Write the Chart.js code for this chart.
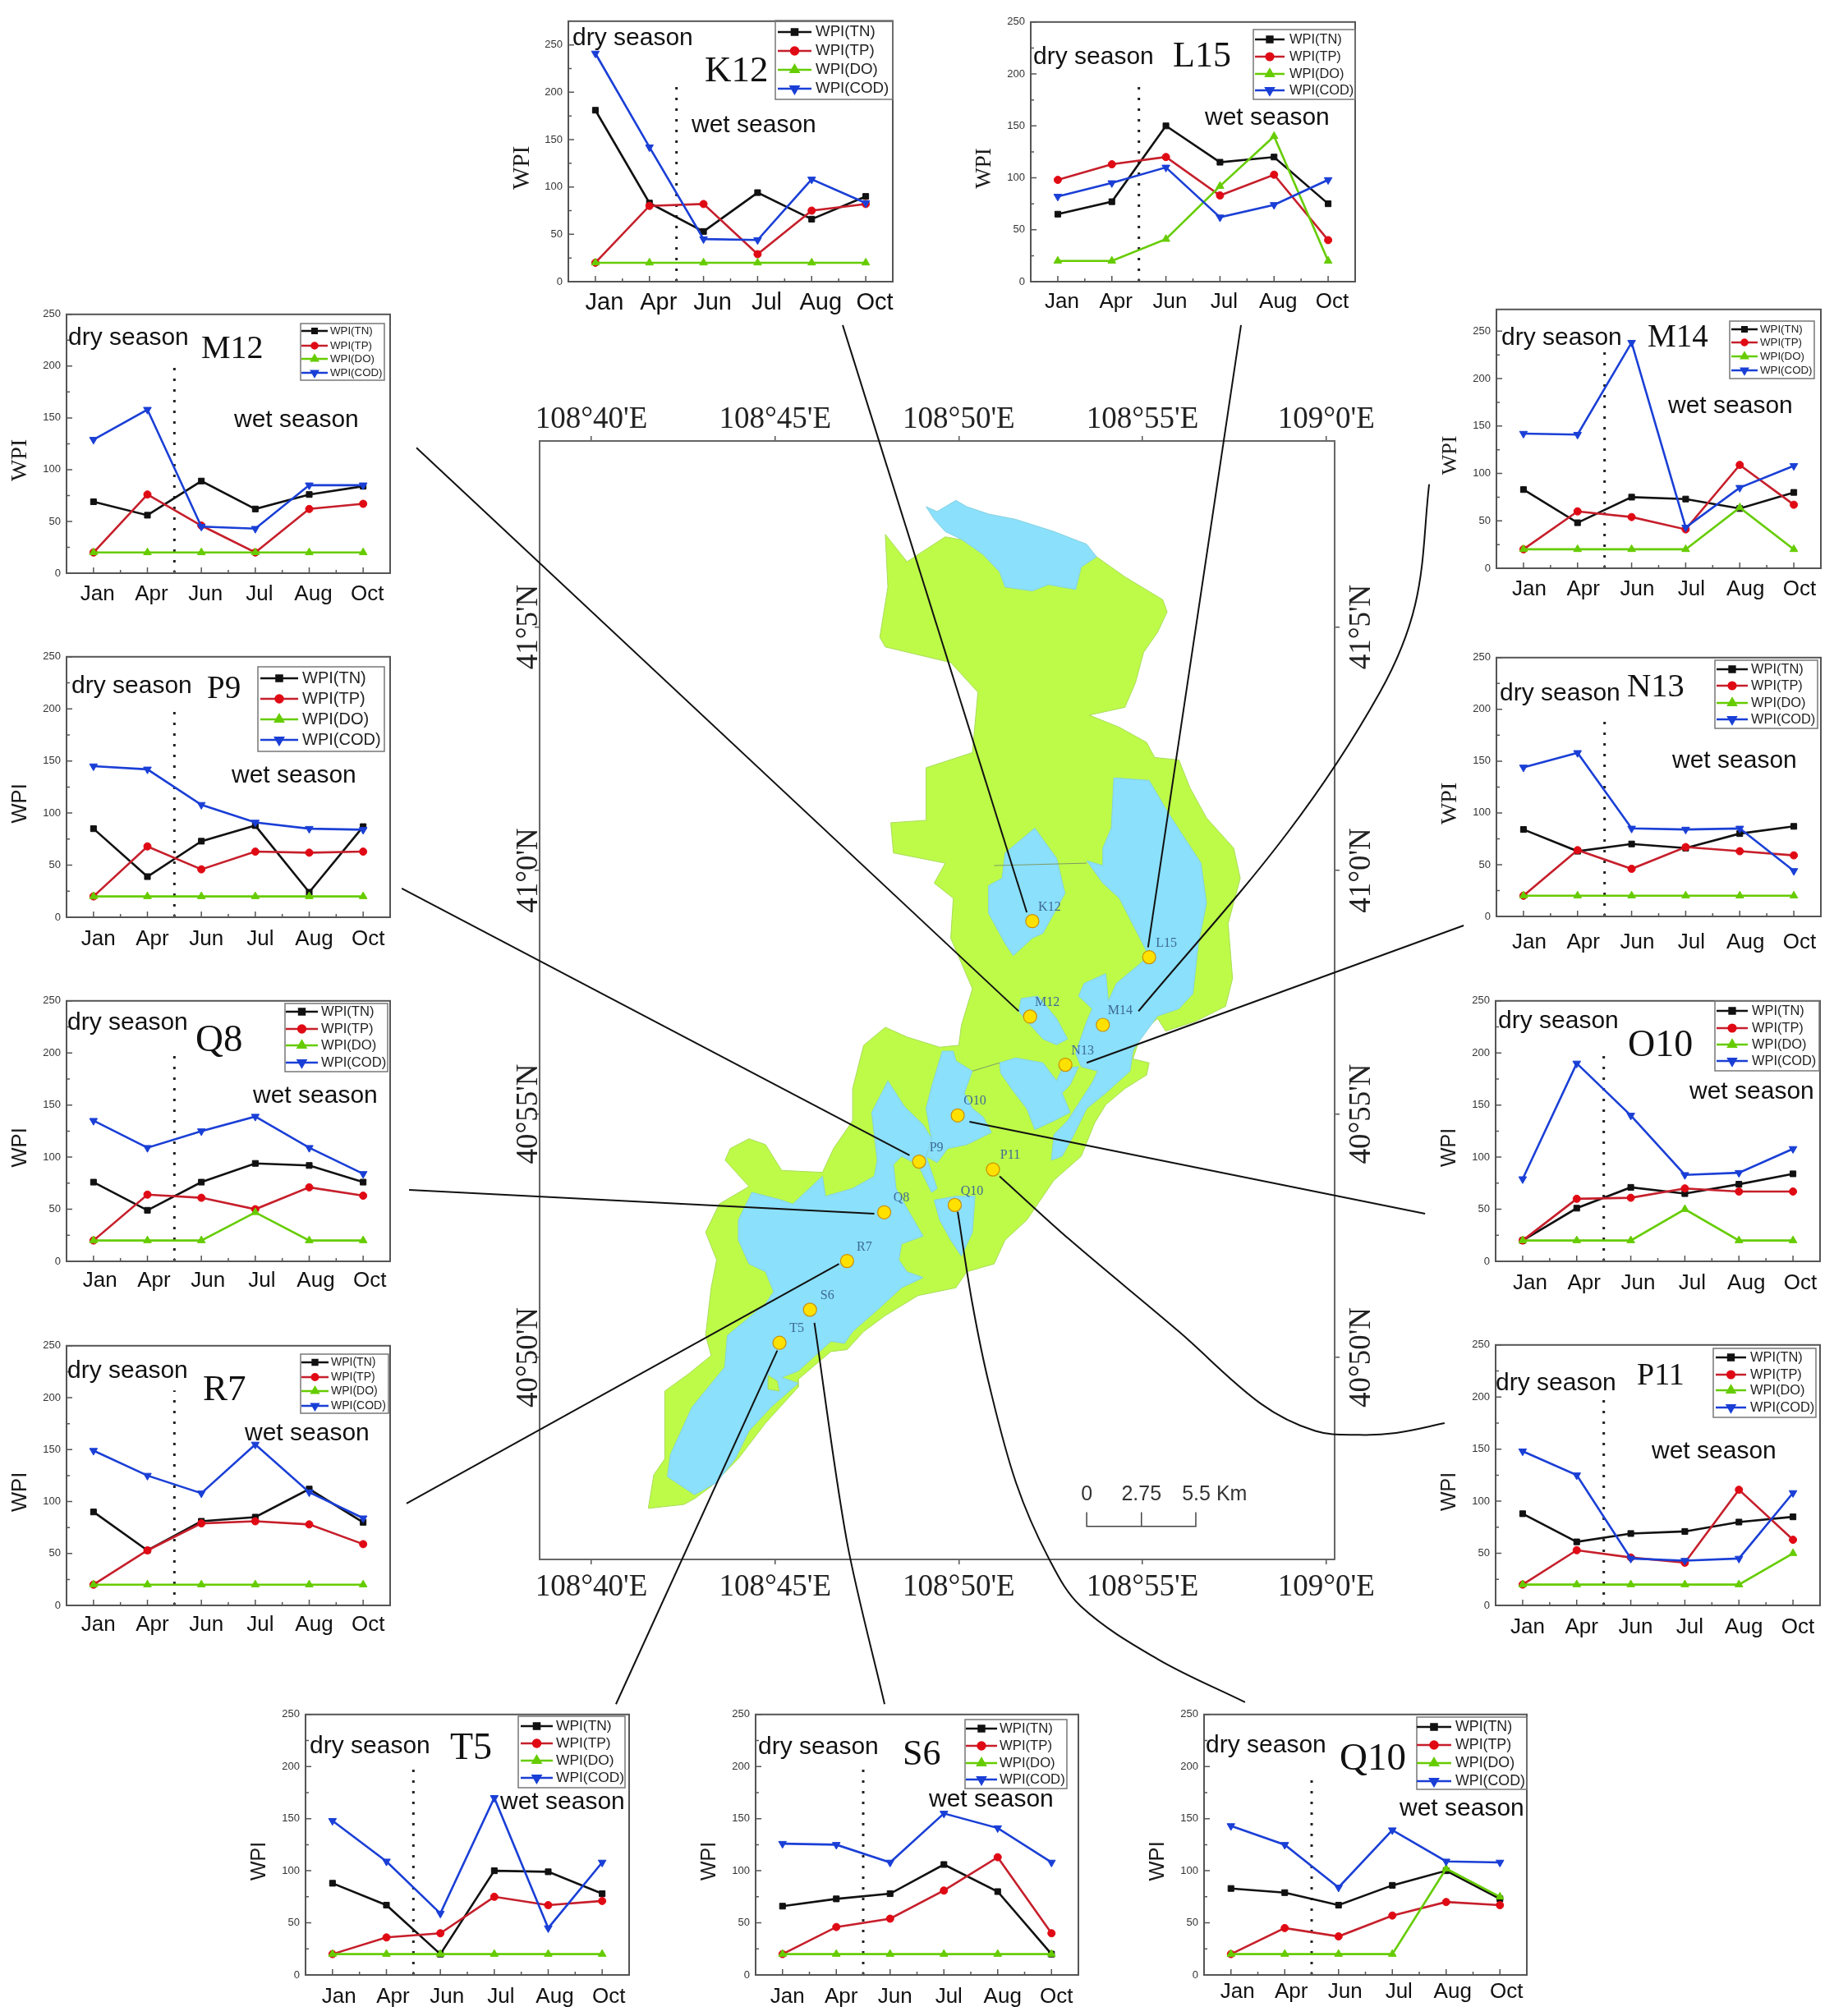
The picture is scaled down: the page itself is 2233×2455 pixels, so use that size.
<!DOCTYPE html>
<html><head><meta charset="utf-8">
<style>html,body{margin:0;padding:0;background:#fff}#page{position:relative;width:2233px;height:2455px;overflow:hidden;background:#fff}canvas{position:absolute;display:block}</style>
<script src="https://cdn.jsdelivr.net/npm/chart.js@4"></script>
</head><body><div id="page"></div>
<script>
// ---------- values ----------
const MONTHS=['Jan','Apr','Jun','Jul','Aug','Oct'];
const WPI_TICKS=[0,50,100,150,200,250];
const SERIES_NAMES=['WPI(TN)','WPI(TP)','WPI(DO)','WPI(COD)'];

const K12_TN=[181,83,53,94,66,90], K12_TP=[20,80,82,29,75,82], K12_DO=[20,20,20,20,20,20], K12_COD=[241,142,45,44,108,83];
const L15_TN=[65,77,150,115,120,75], L15_TP=[98,113,120,83,103,40], L15_DO=[20,20,41,92,140,20], L15_COD=[82,95,110,62,74,98];
const M12_TN=[69,56,89,62,76,84], M12_TP=[20,76,46,20,62,67], M12_DO=[20,20,20,20,20,20], M12_COD=[129,158,45,43,85,85];
const P9_TN=[85,39,73,88,24,87], P9_TP=[20,68,46,63,62,63], P9_DO=[20,20,20,20,20,20], P9_COD=[145,142,108,91,85,84];
const Q8_TN=[76,49,76,94,92,76], Q8_TP=[20,64,61,50,71,63], Q8_DO=[20,20,20,47,20,20], Q8_COD=[135,109,125,139,109,84];
const R7_TN=[90,53,81,85,112,80], R7_TP=[20,53,79,81,78,59], R7_DO=[20,20,20,20,20,20], R7_COD=[149,125,108,155,109,84];
const M14_TN=[83,48,75,73,63,80], M14_TP=[20,60,54,41,109,67], M14_DO=[20,20,20,20,64,20], M14_COD=[142,141,238,43,85,108];
const N13_TN=[84,63,70,66,80,87], N13_TP=[20,64,46,67,63,59], N13_DO=[20,20,20,20,20,20], N13_COD=[144,158,85,84,85,44];
const O10_TN=[20,51,71,65,74,84], O10_TP=[20,60,61,70,67,67], O10_DO=[20,20,20,50,20,20], O10_COD=[79,190,140,83,85,108];
const P11_TN=[88,61,69,71,80,85], P11_TP=[20,53,46,41,111,63], P11_DO=[20,20,20,20,20,50], P11_COD=[148,125,45,43,45,108];
const T5_TN=[88,67,20,100,99,78], T5_TP=[20,36,40,75,67,71], T5_DO=[20,20,20,20,20,20], T5_COD=[148,109,59,170,45,108];
const S6_TN=[66,73,78,106,80,20], S6_TP=[20,46,54,81,113,40], S6_DO=[20,20,20,20,20,20], S6_COD=[126,125,108,155,141,108];
const Q10_TN=[83,79,67,86,100,73], Q10_TP=[20,45,37,57,70,67], Q10_DO=[20,20,20,20,102,75], Q10_COD=[143,125,84,139,109,108];

// map axes: longitude in minutes after 108 deg, latitude in minutes after 40 deg
const LON_TICKS=[40,45,50,55,60], LON_LABELS=["108°40'E","108°45'E","108°50'E","108°55'E","109°0'E"];
const LAT_TICKS=[50,55,60,65], LAT_LABELS=["40°50'N","40°55'N","41°0'N","41°5'N"];
const STATION_NAMES=['K12','L15','M12','M14','N13','O10','P9','P11','Q10','Q8','R7','S6','T5'];
const STATION_LON=[52.00,55.18,51.94,53.92,52.90,49.97,48.92,50.93,49.89,47.97,46.96,45.95,45.12];
const STATION_LAT=[58.96,58.22,57.00,56.83,56.01,54.97,54.02,53.86,53.13,52.98,51.98,50.98,50.30];

const SHORE=[[48.00,66.90],[48.59,66.34],[49.63,66.85],[51.5,66.6],[53.75,66.44],[54.52,66.03],[55.55,65.56],[55.67,65.31],[55.41,64.89],[55.03,64.48],[54.81,63.86],[54.52,63.35],[53.55,63.19],[54.37,62.94],[55.11,62.63],[55.33,62.32],[55.99,62.27],[56.29,61.70],[56.74,61.08],[57.48,60.46],[57.66,59.84],[57.33,58.91],[57.45,57.78],[57.26,57.21],[56.44,56.90],[55.63,56.70],[55.41,56.96],[54.96,56.65],[54.74,56.13],[55.18,56.05],[55.11,55.80],[54.52,55.52],[54.00,55.19],[53.70,54.82],[53.33,54.13],[52.59,53.64],[51.85,52.82],[51.26,52.41],[50.96,51.92],[50.22,51.76],[49.92,51.43],[48.89,51.27],[48.00,50.86],[47.41,50.53],[46.96,50.16],[46.52,50.12],[45.63,49.55],[45.63,49.39],[44.74,48.65],[44.00,47.92],[43.26,47.35],[42.81,47.10],[42.52,46.98],[41.55,46.90],[41.70,47.59],[42.00,47.92],[42.00,49.31],[42.66,49.67],[43.26,50.04],[43.11,50.45],[43.26,51.43],[43.41,52.00],[43.11,52.57],[43.48,53.15],[44.29,53.51],[43.64,54.05],[43.78,54.29],[44.29,54.49],[44.74,54.37],[45.18,53.84],[46.29,53.80],[46.59,54.29],[47.11,54.86],[47.11,55.52],[47.41,56.41],[48.00,56.78],[48.59,56.58],[49.48,56.37],[50.00,56.41],[50.07,56.82],[50.37,57.57],[49.78,58.61],[49.85,59.43],[49.33,59.74],[49.63,60.15],[48.22,60.36],[48.15,60.98],[49.11,61.03],[49.11,62.11],[50.37,62.42],[50.52,63.66],[49.78,64.27],[48.00,64.59],[47.85,64.79],[48.07,65.82]];
const LAKE_NORTH=[[49.11,67.47],[49.41,67.37],[49.92,67.60],[50.22,67.47],[50.81,67.32],[51.55,67.21],[52.59,66.96],[53.48,66.70],[53.75,66.44],[53.33,66.23],[53.18,65.77],[52.44,65.87],[52.00,65.74],[51.26,65.82],[51.11,66.13],[50.66,66.49],[50.07,66.80],[49.63,66.96],[49.33,67.21]];
const LAKE_K12=[[52.07,60.87],[52.66,60.25],[52.89,59.53],[52.29,58.71],[52.00,58.61],[51.48,58.25],[51.26,58.50],[50.81,59.12],[50.81,59.69],[51.18,59.84],[51.26,60.36]];
const LAKE_L15=[[54.22,61.90],[55.18,61.85],[55.70,61.18],[56.59,60.15],[56.74,59.33],[56.52,58.50],[56.37,57.47],[55.99,57.16],[55.41,57.01],[54.81,56.39],[54.74,56.29],[54.66,55.88],[54.00,55.43],[53.48,55.11],[53.11,54.54],[52.81,54.13],[52.52,54.05],[52.59,54.58],[52.96,54.86],[53.63,55.64],[53.78,55.88],[53.33,55.97],[53.18,56.25],[53.48,56.90],[53.63,57.16],[53.26,57.42],[53.41,57.68],[54.00,57.88],[54.07,57.32],[54.29,57.68],[55.18,58.24],[54.37,59.43],[53.92,59.74],[53.48,60.20],[53.92,60.10],[53.92,60.46],[54.15,60.87]];
const LAKE_M12=[[51.70,57.37],[52.15,57.42],[52.66,56.96],[52.96,56.54],[52.66,56.42],[52.29,56.54],[51.92,56.85],[51.63,57.11]];
const LAKE_MID=[[51.11,56.05],[51.55,56.15],[52.29,56.05],[52.66,55.68],[52.81,55.92],[53.26,55.97],[53.03,55.60],[52.81,55.43],[53.03,55.03],[52.59,54.86],[52.07,54.68],[51.85,55.11],[51.48,55.47],[51.14,55.84]];
const LAKE_O10=[[49.55,56.29],[49.85,56.29],[49.92,56.09],[50.37,55.88],[50.15,55.43],[50.37,55.11],[50.66,54.94],[50.89,54.62],[50.22,54.37],[49.70,54.29],[49.41,54.00],[49.11,54.13],[49.26,54.49],[49.11,55.11],[49.26,55.56]];
const LAKE_MAIN=[[48.07,55.68],[48.52,55.15],[49.03,54.78],[49.26,54.49],[49.11,54.13],[49.41,53.47],[49.26,53.39],[48.89,53.96],[48.44,54.13],[48.22,53.96],[48.29,53.47],[48.59,53.06],[49.03,52.49],[48.44,52.33],[48.37,52.00],[48.59,51.76],[49.03,51.64],[48.44,51.43],[47.85,51.02],[47.11,50.53],[46.89,50.29],[46.52,50.33],[45.63,49.72],[45.18,49.59],[45.63,49.47],[44.89,48.98],[44.29,48.49],[43.92,47.92],[43.41,47.43],[42.81,47.18],[42.07,47.55],[42.15,48.00],[42.74,48.98],[43.63,49.80],[43.70,50.45],[44.74,51.10],[44.96,51.35],[44.74,51.76],[44.29,51.92],[44.00,52.41],[44.00,52.82],[44.37,53.39],[45.18,53.23],[45.48,53.15],[46.29,53.72],[46.37,53.31],[47.11,53.47],[47.70,53.72],[47.78,54.05],[47.63,55.03]];
const LAKE_Q10=[[49.33,53.23],[49.92,53.31],[50.44,53.31],[50.37,52.57],[50.07,52.08],[49.78,52.41],[49.48,52.82]];
const ISLAND=[[44.81,49.63],[45.06,49.51],[45.11,49.31],[44.81,49.35]];
const BOUNDARY_A=[[50.96,60.10],[53.48,60.15]], BOUNDARY_B=[[50.37,55.88],[51.11,56.05]];
const SCALE_BAR=[[53.48,46.82],[53.48,46.53],[54.97,46.53],[54.97,46.82],[54.97,46.53],[56.45,46.53],[56.45,46.82]];
const SCALE_TEXT=[['0',53.48,47.18],['2.75',54.97,47.18],['5.5 Km',56.96,47.18]];

const LEAD_K12=[[46.84,71.20],[51.85,59.14]], LEAD_L15=[[57.68,71.20],[55.15,58.42]];
const LEAD_M12=[[35.24,68.68],[51.63,57.11]], LEAD_P9=[[34.84,59.63],[48.66,54.15]];
const LEAD_Q8=[[35.04,53.44],[47.70,52.95]], LEAD_R7=[[34.97,47.00],[46.74,51.92]];
const LEAD_T5=[[40.67,42.88],[45.06,50.14]], LEAD_S6=[[47.98,42.88],[46.96,46.20],[46.07,50.71]];
const LEAD_O10=[[50.29,54.84],[62.69,52.95]], LEAD_N13=[[53.48,56.05],[63.74,58.87]];
const LEAD_Q10=[[57.79,42.92],[55.40,43.81],[53.32,44.89],[52.45,45.87],[51.56,47.42],[50.82,49.46],[50.37,51.10],[49.97,52.99]];
const LEAD_P11=[[63.22,48.65],[61.90,48.45],[60.89,48.41],[59.70,48.49],[58.22,49.05],[55.99,50.53],[53.03,52.41],[51.11,53.72]];
const LEAD_M14=[[62.80,67.93],[62.42,65.46],[61.46,63.66],[58.95,60.78],[54.89,57.11]];

// ---------- layout and style ----------
const SANS='"Liberation Sans"', SERIF='"Liberation Serif"';
const C_BLACK='#111', C_RED='#c61f2b', C_RED_PT='#e00a14', C_GREEN='#66cc00', C_BLUE='#1a3fd6';
const SERIES_STYLE=[
 {line:C_BLACK,pt:C_BLACK,style:'rect',rot:0,r:5,order:3},
 {line:C_RED,pt:C_RED_PT,style:'circle',rot:0,r:4.5,order:2},
 {line:C_GREEN,pt:C_GREEN,style:'triangle',rot:0,r:5.5,order:1},
 {line:C_BLUE,pt:C_BLUE,style:'triangle',rot:180,r:5.5,order:0}];
const PAD={L:72,T:14,R:10,B:44};

const PANELS=[
 {name:'K12',v:[K12_TN,K12_TP,K12_DO,K12_COD],box:[692,25,1087,343],yMax:275,dryTop:208,off:11,lab:25,xf:29,wf:[SERIF,29],dry:[697,47],wet:[842,153],nm:[858,87,45],
  lg:{b:[944,25,1087,121],r:[39,62,85,108],l:[947,988],t:993,f:18.7}},
 {name:'L15',v:[L15_TN,L15_TP,L15_DO,L15_COD],box:[1255,26,1650,343],yMax:250,dryTop:193,off:5,lab:23,xf:26,wf:[SERIF,27],dry:[1258,70],wet:[1467,144],nm:[1428,69,44],
  lg:{b:[1526,36,1650,121],r:[48,69,90,110],l:[1528,1564],t:1570,f:16.4}},
 {name:'M12',v:[M12_TN,M12_TP,M12_DO,M12_COD],box:[81,382,475,698],yMax:250,dryTop:206,off:5,lab:24,xf:26,wf:[SERIF,28],dry:[83,412],wet:[285,512],nm:[245,425,40],
  lg:{b:[366,394,468,463],r:[403,421,437,454],l:[367,399],t:402,f:13.3}},
 {name:'P9',v:[P9_TN,P9_TP,P9_DO,P9_COD],box:[81,799,475,1117],yMax:250,dryTop:197,off:6,lab:25,xf:26,wf:[SANS,25.6],dry:[87,836],wet:[282,945],nm:[252,840,39],
  lg:{b:[314,812,468,915],r:[826,851,876,901],l:[317,363],t:368,f:20}},
 {name:'Q8',v:[Q8_TN,Q8_TP,Q8_DO,Q8_COD],box:[81,1218,475,1536],yMax:250,dryTop:199,off:8,lab:22,xf:26,wf:[SANS,25.6],dry:[82,1246],wet:[308,1335],nm:[238,1268,47],
  lg:{b:[347,1222,472,1305],r:[1232,1253,1273,1294],l:[348,387],t:391,f:16.6}},
 {name:'R7',v:[R7_TN,R7_TP,R7_DO,R7_COD],box:[81,1638,475,1955],yMax:250,dryTop:207,off:6,lab:22,xf:26,wf:[SANS,25.6],dry:[82,1670],wet:[298,1746],nm:[247,1693,45],
  lg:{b:[366,1649,473,1721],r:[1659,1677,1694,1712],l:[367,400],t:403,f:14}},
 {name:'M14',v:[M14_TN,M14_TP,M14_DO,M14_COD],box:[1822,376,2217,692],yMax:273,dryTop:230,off:7,lab:24,xf:26,wf:[SERIF,26],dry:[1828,412],wet:[2031,495],nm:[2006,412,39],
  lg:{b:[2106,391,2209,461],r:[401,417,434,451],l:[2108,2140],t:2143,f:13.3}},
 {name:'N13',v:[N13_TN,N13_TP,N13_DO,N13_COD],box:[1822,800,2217,1116],yMax:250,dryTop:188,off:7,lab:30,xf:26,wf:[SERIF,28],dry:[1826,845],wet:[2036,927],nm:[1981,837,40.6],
  lg:{b:[2088,804,2213,887],r:[815,835,856,876],l:[2090,2128],t:2132,f:16.4}},
 {name:'O10',v:[O10_TN,O10_TP,O10_DO,O10_COD],box:[1821,1218,2216,1536],yMax:250,dryTop:198,off:9,lab:25,xf:26,wf:[SANS,25],dry:[1824,1244],wet:[2057,1330],nm:[1982,1274,46],
  lg:{b:[2088,1219,2215,1304],r:[1231,1252,1272,1292],l:[2090,2128],t:2133,f:16.4}},
 {name:'P11',v:[P11_TN,P11_TP,P11_DO,P11_COD],box:[1821,1637,2216,1955],yMax:250,dryTop:197,off:6,lab:25,xf:26,wf:[SANS,25],dry:[1821,1685],wet:[2011,1768],nm:[1993,1676,38],
  lg:{b:[2086,1642,2211,1726],r:[1653,1674,1693,1714],l:[2089,2126],t:2131,f:16.4}},
 {name:'T5',v:[T5_TN,T5_TP,T5_DO,T5_COD],box:[372,2087,766,2405],yMax:250,dryTop:200,off:8,lab:25,xf:26,wf:[SANS,25],dry:[377,2127],wet:[609,2195],nm:[548,2130,46],
  lg:{b:[631,2090,761,2177],r:[2102,2123,2144,2165],l:[634,673],t:677,f:17.4}},
 {name:'S6',v:[S6_TN,S6_TP,S6_DO,S6_COD],box:[920,2087,1313,2405],yMax:250,dryTop:199,off:6,lab:25,xf:26,wf:[SANS,25],dry:[923,2128],wet:[1131,2192],nm:[1099,2137,44],
  lg:{b:[1175,2094,1299,2178],r:[2105,2126,2147,2167],l:[1176,1214],t:1217,f:16.7}},
 {name:'Q10',v:[Q10_TN,Q10_TP,Q10_DO,Q10_COD],box:[1466,2087,1859,2405],yMax:250,dryTop:187,off:8,lab:19,xf:26,wf:[SANS,25.6],dry:[1468,2126],wet:[1704,2203],nm:[1631,2143,47],
  lg:{b:[1725,2091,1859,2179],r:[2103,2125,2147,2169],l:[1725,1767],t:1772,f:17.8}}
];

const MAP_BOX={l:657,t:537,r:1625,b:1899};
const W=2233,H=2455;
const xy=a=>a.map(p=>({x:p[0],y:p[1]}));
const closed=a=>xy(a.concat([a[0]]));
const page=document.getElementById('page');
function mk(l,t,w,h,z){const c=document.createElement('canvas');c.width=w;c.height=h;c.style.cssText=`left:${l}px;top:${t}px;width:${w}px;height:${h}px;z-index:${z}`;page.appendChild(c);return c;}
Chart.defaults.animation=false;
Chart.defaults.font.family=SANS;

// ---------- map ----------
function area(data,fill,edge){return {data:closed(data),showLine:true,fill:'shape',backgroundColor:fill,borderColor:edge,borderWidth:1,pointRadius:0,tension:0};}
function lead(data,t){return {data:xy(data),showLine:true,fill:false,borderColor:'#111',borderWidth:2,pointRadius:0,tension:t||0,clip:false};}
const GREEN='#bdfb48',GREEN_E='#a9dc58',LAKE='#8be0fb',LAKE_E='#86d2e0';
const mapDatasets=[
 area(SHORE,GREEN,GREEN_E),
 area(LAKE_NORTH,LAKE,LAKE_E),area(LAKE_K12,LAKE,LAKE_E),area(LAKE_L15,LAKE,LAKE_E),area(LAKE_M12,LAKE,LAKE_E),
 area(LAKE_MID,LAKE,LAKE_E),area(LAKE_O10,LAKE,LAKE_E),area(LAKE_MAIN,LAKE,LAKE_E),area(LAKE_Q10,LAKE,LAKE_E),
 area(ISLAND,GREEN,GREEN_E),
 {data:xy(BOUNDARY_A),showLine:true,borderColor:'#7d9a66',borderWidth:1,pointRadius:0},
 {data:xy(BOUNDARY_B),showLine:true,borderColor:'#7d9a66',borderWidth:1,pointRadius:0},
 {data:xy(SCALE_BAR),showLine:true,borderColor:'#444',borderWidth:1.5,pointRadius:0},
 lead(LEAD_K12),lead(LEAD_L15),lead(LEAD_M12),lead(LEAD_P9),lead(LEAD_Q8),lead(LEAD_R7),lead(LEAD_T5),lead(LEAD_S6,0.3),
 lead(LEAD_O10),lead(LEAD_N13),lead(LEAD_Q10,0.35),lead(LEAD_P11,0.35),lead(LEAD_M14,0.35),
 {data:STATION_NAMES.map((n,i)=>({x:STATION_LON[i],y:STATION_LAT[i]})),showLine:false,pointRadius:8,pointBackgroundColor:'#ffe100',pointBorderColor:'#c98f00',pointBorderWidth:1.2}
];
mapDatasets.forEach((d,i)=>{d.order=mapDatasets.length-i;});
const STATION_INDEX=mapDatasets.length-1;
const mapPlugin={id:'mapText',afterDatasetsDraw(ch){
 const c=ch.ctx;c.save();c.textAlign='center';c.textBaseline='middle';
 c.font='16px '+SERIF;c.fillStyle='#3e6a96';
 ch.getDatasetMeta(STATION_INDEX).data.forEach((p,i)=>c.fillText(STATION_NAMES[i],p.x+21,p.y-17));
 c.font='25px '+SANS;c.fillStyle='#333';
 SCALE_TEXT.forEach(t=>c.fillText(t[0],ch.scales.x.getPixelForValue(t[1]),ch.scales.y.getPixelForValue(t[2])));
 c.restore();}};
const lonPerPx=1/44.74,latPerPx=1/59.3;
function geoAxis(pos,ax,min,max,ticks,labels,pad,rot,fit){
 return {type:'linear',axis:ax,position:pos,min,max,
  afterBuildTicks:s=>{s.ticks=ticks.map(v=>({value:v}));},
  afterFit:s=>{if(ax==='x')s.height=fit;else s.width=fit;},
  border:{display:true,color:'#666',width:2},
  grid:{drawOnChartArea:false,tickLength:6,color:'#555',lineWidth:1.5},
  ticks:{autoSkip:false,padding:pad,minRotation:rot,maxRotation:rot,crossAlign:ax==='y'?'center':'near',color:'#222',font:{family:SERIF,size:37},callback:v=>labels[ticks.indexOf(v)]}};
}
const lonMin=40+(MAP_BOX.l-720)*lonPerPx, lonMax=40+(MAP_BOX.r-720)*lonPerPx;
const latMax=60-(MAP_BOX.t-1060)*latPerPx, latMin=60-(MAP_BOX.b-1060)*latPerPx;
new Chart(mk(0,0,W,H,1),{type:'scatter',data:{datasets:mapDatasets},plugins:[mapPlugin],options:{
 responsive:false,devicePixelRatio:1,layout:{padding:0},
 plugins:{legend:{display:false},tooltip:{enabled:false}},
 scales:{
  x:geoAxis('bottom','x',lonMin,lonMax,LON_TICKS,LON_LABELS,6,0,H-MAP_BOX.b),
  x2:geoAxis('top','x',lonMin,lonMax,LON_TICKS,LON_LABELS,-2,0,MAP_BOX.t),
  y:geoAxis('left','y',latMin,latMax,LAT_TICKS,LAT_LABELS,-54,90,MAP_BOX.l),
  y2:geoAxis('right','y',latMin,latMax,LAT_TICKS,LAT_LABELS,-34,90,W-MAP_BOX.r)
 }}});

// ---------- panels ----------
const HALF_TICKS=[];for(let i=1;i<=13;i++)HALF_TICKS.push(0.5*i);
const panelPlugin={id:'panelDeco',
 afterDraw(ch){
  const p=ch.config.options.panelCfg,c=ch.ctx,a=ch.chartArea,ox=p.box[0]-PAD.L,oy=p.box[1]-PAD.T,sx=ch.scales.x,sy=ch.scales.y;
  c.save();
  c.strokeStyle='#555';c.lineWidth=2;c.strokeRect(a.left,a.top,a.right-a.left,a.bottom-a.top);
  c.lineWidth=1.5;c.beginPath();
  HALF_TICKS.forEach(v=>{if(v<=sx.min||v>=sx.max)return;const x=sx.getPixelForValue(v),l=Number.isInteger(v)?7:4;c.moveTo(x,a.bottom);c.lineTo(x,a.bottom-l);});
  for(let v=25;v<=250;v+=25){const y=sy.getPixelForValue(v),l=v%50===0?7:4;c.moveTo(a.left,y);c.lineTo(a.left+l,y);}
  c.stroke();
  c.fillStyle='#111';c.textBaseline='middle';c.textAlign='left';
  c.font='30px '+SANS;
  c.fillText('dry season',p.dry[0]-ox,p.dry[1]-oy);
  c.fillText('wet season',p.wet[0]-ox,p.wet[1]-oy);
  c.font=p.nm[2]+'px '+SERIF;
  c.fillText(p.name,p.nm[0]-ox,p.nm[1]-oy);
  c.save();c.translate(a.left-56,(a.top+a.bottom)/2+20);c.rotate(-Math.PI/2);c.textAlign='center';
  c.font=p.wf[1]+'px '+p.wf[0];c.fillStyle='#1a1a1a';c.fillText('WPI',0,0);c.restore();
  const g=p.lg;
  c.strokeStyle='#777';c.lineWidth=1.5;c.strokeRect(g.b[0]-ox,g.b[1]-oy,g.b[2]-g.b[0],g.b[3]-g.b[1]);
  SERIES_NAMES.forEach((n,i)=>{
   const s=SERIES_STYLE[i],y=g.r[i]-oy,x0=g.l[0]-ox,x1=g.l[1]-ox;
   c.strokeStyle=s.line;c.lineWidth=2.5;c.beginPath();c.moveTo(x0,y);c.lineTo(x1,y);c.stroke();
   c.fillStyle=s.pt;c.strokeStyle=s.pt;
   Chart.helpers.drawPoint(c,{pointStyle:s.style,rotation:s.rot,radius:s.r*Math.min(1,g.f/17),borderWidth:1},(x0+x1)/2,y);
   c.fillStyle='#222';c.textAlign='left';c.font=g.f+'px '+SANS;c.fillText(n,g.t-ox,y);
  });
  c.restore();
 }};
PANELS.forEach(p=>{
 const [x0,y0,x1,y1]=p.box;
 const cv=mk(x0-PAD.L,y0-PAD.T,x1-x0+PAD.L+PAD.R,y1-y0+PAD.T+PAD.B,2);
 const ds=p.v.map((vals,i)=>{const s=SERIES_STYLE[i];return {
   type:'line',label:SERIES_NAMES[i],data:vals.map((v,j)=>({x:j+1,y:v})),
   borderColor:s.line,borderWidth:2.6,tension:0,fill:false,order:s.order,
   pointStyle:s.style,pointRotation:s.rot,pointRadius:s.r,
   pointBackgroundColor:s.pt,pointBorderColor:s.pt,pointBorderWidth:1};});
 ds.push({type:'line',label:'season divide',data:[{x:2.5,y:0},{x:2.5,y:p.dryTop}],borderColor:'#222',borderWidth:3,borderDash:[3,10],pointRadius:0,order:4,fill:false});
 new Chart(cv,{type:'line',data:{datasets:ds},plugins:[panelPlugin],options:{
  panelCfg:p,responsive:false,devicePixelRatio:1,
  layout:{padding:{left:0,top:PAD.T,right:PAD.R,bottom:0}},
  plugins:{legend:{display:false},tooltip:{enabled:false}},
  scales:{
   x:{type:'linear',min:0.5,max:6.5,
    afterBuildTicks:s=>{s.ticks=MONTHS.map((m,i)=>({value:i+1}));},
    afterFit:s=>{s.height=PAD.B;},
    border:{display:false},grid:{display:false,drawTicks:false},
    ticks:{autoSkip:false,maxRotation:0,minRotation:0,labelOffset:p.off,padding:p.lab-Math.round(p.xf/2)-1,color:'#111',font:{family:SANS,size:p.xf},callback:v=>MONTHS[v-1]}},
   y:{type:'linear',min:0,max:p.yMax,
    afterBuildTicks:s=>{s.ticks=WPI_TICKS.map(v=>({value:v}));},
    afterFit:s=>{s.width=PAD.L;},
    border:{display:false},grid:{display:false,drawTicks:false},
    ticks:{padding:7,color:'#333',font:{family:SANS,size:13},callback:v=>String(v)}}
  }}});
});
</script></body></html>
